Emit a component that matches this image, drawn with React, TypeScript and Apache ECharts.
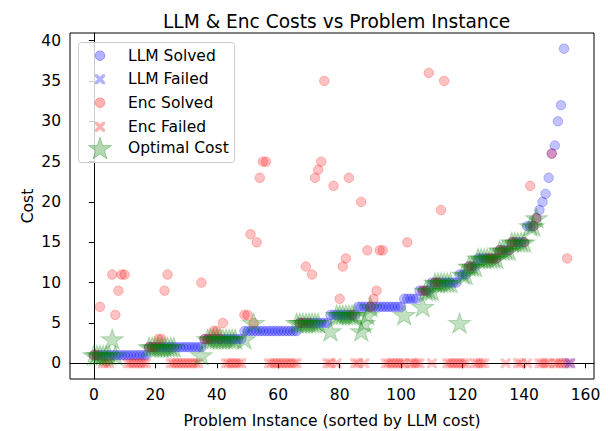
import React, { useEffect, useRef } from "react";
import * as echarts from "echarts";

// LLM cost per problem instance (sorted); null = LLM failed (plotted at 0)
const llmCost: (number | null)[] = [
  1, 1, 1, 1, 1, 1, 1, 1, 1, 1,
  1, 1, 1, 1, 1, 1, 1, 1, 2, 2,
  2, 2, 2, 2, 2, 2, 2, 2, 2, 2,
  2, 2, 2, 2, 2, 2, 3, 3, 3, 3,
  3, 3, 3, 3, 3, 3, 3, 3, 3, 4,
  4, 4, 4, 4, 4, 4, 4, 4, 4, 4,
  4, 4, 4, 4, 4, 4, 4, 5, 5, 5,
  5, 5, 5, 5, 5, 5, 5, 6, 6, 6,
  6, 6, 6, 6, 6, 6, 7, 7, 7, 7,
  7, 7, 7, 7, 7, 7, 7, 7, 7, 7,
  7, 8, 8, 8, 8, 8, 9, 9, 9, 9,
  10, 10, 10, 10, 10, 10, 10, 10, 10, 11,
  11, 11, 12, 12, 12, 13, 13, 13, 13, 13,
  13, 13, 14, 14, 14, 14, 15, 15, 15, 15,
  15, 17, 17, 17, 18, 19, 20, 21, 23, 26,
  27, 30, 32, 39, null, null,
];

// Encoding-approach cost per instance; null = Enc failed (plotted at 0)
const encCost: (number | null)[] = [
  1, 1, 7, null, null, null, 11, 6, 9, 11,
  11, null, null, null, null, null, null, null, 2, 2,
  2, 3, 3, 9, 11, null, null, null, null, null,
  null, null, null, null, null, 10, 3, 3, 3, 4,
  4, 3, 5, null, null, null, null, null, null, 6,
  6, 16, 5, 15, 23, 25, 25, null, null, null,
  null, null, null, null, null, null, null, 5, 5, 12,
  5, 11, 23, 24, 25, 35, null, null, 22, null,
  8, 12, 13, 23, 6, null, null, 20, null, 14,
  7, 8, 9, 14, 14, null, null, null, null, null,
  null, null, 15, null, null, null, null, 9, 9, 36,
  null, 10, 10, 19, 35, null, null, null, null, null,
  null, null, 12, 12, null, null, null, null, 13, 13,
  13, 13, 14, 14, null, 14, 15, 15, null, null,
  15, null, 22, 17, 18, null, null, null, null, 26,
  null, null, null, null, 13, null,
];

// Optimal cost per instance; null = not known
const optimalCost: (number | null)[] = [
  1, 1, 1, 1, 1, 1, 3, 1, null, null,
  null, null, null, null, null, null, null, null, 2, 2,
  2, 2, 2, 2, 2, 2, 2, null, null, null,
  null, null, null, null, null, 1, null, 3, 3, 3,
  3, 3, 3, 3, 3, 3, 3, null, null, 3,
  null, null, 5, null, null, null, null, null, null, null,
  null, null, null, null, null, null, 5, 5, 5, 5,
  5, 5, 5, 5, null, null, null, 4, null, 6,
  6, 6, 6, 6, 6, 6, null, 4, 5, 6,
  7, null, null, null, null, null, null, null, null, null,
  null, 6, null, null, null, null, null, 7, 9, 9,
  9, 10, 10, 10, 10, 10, 10, null, null, 5,
  11, 11, 12, 12, 12, 13, 13, 13, 13, 13,
  13, 13, 14, 14, 14, 14, 15, 15, 15, 15,
  15, null, 17, 17, 18, null, null, null, null, null,
  null, null, null, null, null, null,
];

const xTicks = [0, 20, 40, 60, 80, 100, 120, 140, 160];
const yTicks = [0, 5, 10, 15, 20, 25, 30, 35, 40];
const legendNames = ["LLM Solved", "LLM Failed", "Enc Solved", "Enc Failed", "Optimal Cost"];

const FONT = "DejaVu Sans";
const X_PATH =
  "path://M0 0L2.5 0L5 2.5L7.5 0L10 0L10 2.5L7.5 5L10 7.5L10 10L7.5 10L5 7.5L2.5 10L0 10L0 7.5L2.5 5L0 2.5Z";
const STAR_PATH =
  "path://M50 0L61.2 34.5L97.6 34.5L68.2 55.9L79.4 90.5L50 69.1L20.6 90.5L31.8 55.9L2.4 34.5L38.8 34.5Z";

const BLUE = "rgba(0,0,255,0.3)";
const RED = "rgba(255,0,0,0.3)";
const GREEN = "rgba(0,128,0,0.3)";

function solved(arr: (number | null)[]) {
  const out: number[][] = [];
  arr.forEach((v, i) => {
    if (v !== null) out.push([i, v]);
  });
  return out;
}
function failed(arr: (number | null)[]) {
  const out: number[][] = [];
  arr.forEach((v, i) => {
    if (v === null) out.push([i, 0]);
  });
  return out;
}

// legend icon geometry helpers
function xIcon(cx: number, cy: number, s: number) {
  const u = s / 10;
  const pts = [
    [0, 0], [2.5, 0], [5, 2.5], [7.5, 0], [10, 0], [10, 2.5], [7.5, 5], [10, 7.5],
    [10, 10], [7.5, 10], [5, 7.5], [2.5, 10], [0, 10], [0, 7.5], [2.5, 5], [0, 2.5],
  ];
  return pts.map(([px, py]) => [cx - s / 2 + px * u, cy - s / 2 + py * u]);
}
function starIcon(cx: number, cy: number, R: number) {
  const r = R * 0.382;
  const pts: number[][] = [];
  for (let k = 0; k < 10; k++) {
    const a = -Math.PI / 2 + (k * Math.PI) / 5;
    const rad = k % 2 === 0 ? R : r;
    pts.push([cx + rad * Math.cos(a), cy + rad * Math.sin(a)]);
  }
  return pts;
}

export default function App() {
  const ref = useRef<HTMLDivElement>(null);
  useEffect(() => {
    if (!ref.current) return;
    const chart = echarts.init(ref.current, null, { renderer: "svg" });
    const fs = 15.5;
    const textStyle = { color: "#000", fontSize: fs, fontFamily: FONT };
    const rows = [55.7, 79.3, 102.7, 126.7, 148.3];
    const iconX = 100;
    const legendGraphics: any[] = [
      {
        type: "rect",
        z: 100,
        shape: { x: 78.5, y: 42.5, width: 156, height: 120, r: 3 },
        style: { fill: "rgba(255,255,255,0.8)", stroke: "#cccccc", lineWidth: 1 },
      },
      {
        type: "circle",
        z: 101,
        shape: { cx: iconX, cy: rows[0], r: 4.8 },
        style: { fill: BLUE, stroke: BLUE, lineWidth: 1 },
      },
      {
        type: "polygon",
        z: 101,
        shape: { points: xIcon(iconX, rows[1], 10) },
        style: { fill: BLUE },
      },
      {
        type: "circle",
        z: 101,
        shape: { cx: iconX, cy: rows[2], r: 4.8 },
        style: { fill: RED, stroke: RED, lineWidth: 1 },
      },
      {
        type: "polygon",
        z: 101,
        shape: { points: xIcon(iconX, rows[3], 10) },
        style: { fill: RED },
      },
      {
        type: "polygon",
        z: 101,
        shape: { points: starIcon(iconX, rows[4] + 1, 12) },
        style: { fill: GREEN, stroke: GREEN, lineWidth: 1 },
      },
      ...legendNames.map((name, k) => ({
        type: "text",
        z: 101,
        x: 128,
        y: rows[k],
        style: {
          text: name,
          fill: "#000",
          fontSize: fs,
          fontFamily: FONT,
          verticalAlign: "middle",
          align: "left",
        },
      })),
    ];
    chart.setOption({
      animation: false,
      title: {
        text: "LLM & Enc Costs vs Problem Instance",
        left: 158,
        top: 5,
        textStyle: { color: "#000", fontSize: 18.6, fontWeight: "normal", fontFamily: FONT, lineHeight: 22 },
      },
      grid: {
        left: 70,
        right: 14,
        top: 33,
        bottom: 52,
        show: true,
        containLabel: false,
        outerBoundsMode: "none",
        borderColor: "#000",
        borderWidth: 1,
        backgroundColor: "transparent",
      },
      xAxis: {
        type: "value",
        min: -7.75,
        max: 162.75,
        splitLine: { show: false },
        axisLine: { show: true, lineStyle: { color: "#000", width: 1 } },
        axisTick: { show: true, length: 5, lineStyle: { color: "#000" }, customValues: xTicks },
        axisLabel: { ...textStyle, margin: 8, customValues: xTicks },
        name: "Problem Instance (sorted by LLM cost)",
        nameLocation: "middle",
        nameGap: 34,
        nameTextStyle: textStyle,
      },
      yAxis: {
        type: "value",
        min: -1.95,
        max: 40.95,
        splitLine: { show: false },
        axisLine: { show: true, lineStyle: { color: "#000", width: 1 } },
        axisTick: { show: true, length: 5, lineStyle: { color: "#000" }, customValues: yTicks },
        axisLabel: { ...textStyle, margin: 9, customValues: yTicks },
        name: "Cost",
        nameLocation: "middle",
        nameGap: 34,
        nameMoveOverlap: false,
        nameTextStyle: textStyle,
      },
      graphic: legendGraphics,
      series: [
        {
          name: "LLM Solved",
          type: "scatter",
          data: solved(llmCost),
          symbol: "circle",
          symbolSize: 9.5,
          itemStyle: { color: BLUE, borderColor: BLUE, borderWidth: 1 },
        },
        {
          name: "LLM Failed",
          type: "scatter",
          data: failed(llmCost),
          symbol: X_PATH,
          symbolSize: 10,
          itemStyle: { color: BLUE, borderWidth: 0 },
        },
        {
          name: "Enc Solved",
          type: "scatter",
          data: solved(encCost),
          symbol: "circle",
          symbolSize: 9.5,
          itemStyle: { color: RED, borderColor: RED, borderWidth: 1 },
        },
        {
          name: "Enc Failed",
          type: "scatter",
          data: failed(encCost),
          symbol: X_PATH,
          symbolSize: 10,
          itemStyle: { color: RED, borderWidth: 0 },
        },
        {
          name: "Optimal Cost",
          type: "scatter",
          data: solved(optimalCost),
          symbol: STAR_PATH,
          symbolSize: [22, 21],
          symbolKeepAspect: true,
          itemStyle: { color: GREEN, borderColor: GREEN, borderWidth: 1 },
        },
      ],
    });
    return () => chart.dispose();
  }, []);
  return (
    <div
      ref={ref}
      style={{ position: "fixed", left: 0, top: 0, width: 608, height: 431, background: "#fff" }}
    />
  );
}
